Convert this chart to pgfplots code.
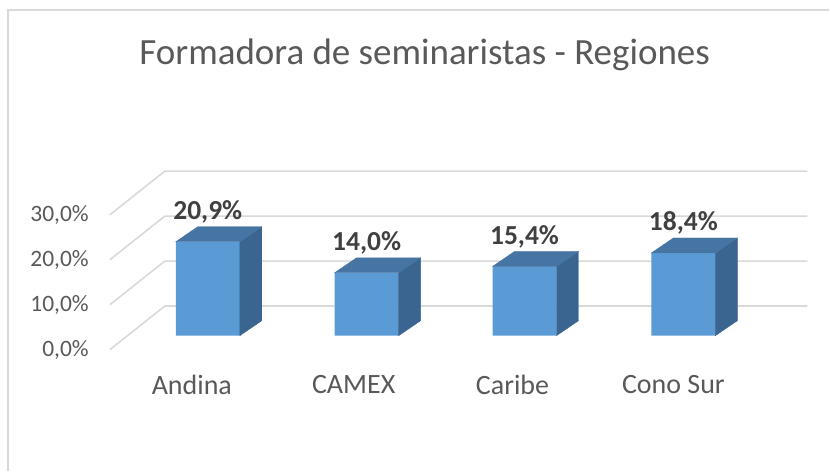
\documentclass[border=0pt]{standalone}
\usepackage{fontspec}
\setmainfont{Carlito}
\usepackage{pgfplots}
\pgfplotsset{compat=1.18}
\usepackage{pgfplotstable}
\definecolor{frontc}{HTML}{5B9BD5}
\definecolor{topc}{HTML}{4674A3}
\definecolor{sidec}{HTML}{3A6590}
\definecolor{gridc}{HTML}{D9D9D9}
\definecolor{txt}{HTML}{595959}
\definecolor{lbl}{HTML}{404040}
\pgfdeclareplotmark{nothing}{}
\pgfplotstableread{
x v
208 20.9
367 14.0
525 15.4
684 18.4
}\data
\begin{document}
\begin{tikzpicture}
\begin{axis}[
  x=1pt, y=4.5pt, scale only axis,
  xmin=0, xmax=830, ymin=-30, ymax=74.6667,
  clip=false,
  axis line style={draw=none}, tick style={draw=none},
  xtick={192,354,513,674},
  xticklabels={Andina,CAMEX,Caribe,Cono Sur},
  xticklabel style={anchor=center, yshift=86pt, font=\fontsize{28}{30}\selectfont, text=txt},
  ytick={-3.11,6.89,16.89,26.89},
  yticklabels={{0,0\%},{10,0\%},{20,0\%},{30,0\%}},
  yticklabel style={anchor=east, inner sep=0pt, xshift=89pt, font=\fontsize{23.5}{25}\selectfont, text=txt},
]
% chart border
\draw[gridc, line width=1.5pt] (axis cs:8,-30) -- (axis cs:8,72.4) -- (axis cs:830,72.4);
% gridlines (floor-side and back wall)
\addplot[gridc, line width=1.6pt, mark=none] coordinates {(110,-3.11) (165,6.6) (808,6.6)};
\addplot[gridc, line width=1.6pt, mark=none] coordinates {(110,6.89) (165,16.6) (808,16.6)};
\addplot[gridc, line width=1.6pt, mark=none] coordinates {(110,16.89) (165,26.6) (808,26.6)};
\addplot[gridc, line width=1.6pt, mark=none] coordinates {(110,26.89) (165,36.6) (808,36.6)};
% side and top faces
\addplot[only marks, scatter, mark=nothing,
  visualization depends on={\thisrow{v} \as \val},
  scatter/@pre marker code/.code={%
    \pgfmathsetmacro\h{\val*4.5}%
    \fill[sidec] (32pt,0pt) -- (54pt,15pt) -- (54pt,15pt-\h pt) -- (32pt,-\h pt) -- cycle;
    \fill[topc] (-32pt,0pt) -- (32pt,0pt) -- (54pt,15pt) -- (-10pt,15pt) -- cycle;
  },
  scatter/@post marker code/.code={},
] table[x=x, y=v] {\data};
% front faces
\addplot[ybar, bar width=64, bar shift=0pt, fill=frontc, draw=none,
  nodes near coords={\pgfmathprintnumber[fixed, fixed zerofill, precision=1, use comma, assume math mode=true]{\pgfplotspointmeta}\%},
  every node near coord/.append style={anchor=center, yshift=30pt, text=lbl, font=\bfseries\fontsize{27.5}{29}\selectfont},
] table[x=x, y=v] {\data};
\node[text=txt, font=\fontsize{37}{40}\selectfont] at (axis cs:425,62.4) {Formadora de seminaristas - Regiones};
\end{axis}
\end{tikzpicture}
\end{document}
